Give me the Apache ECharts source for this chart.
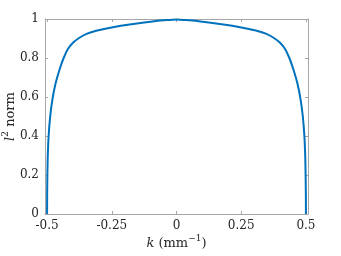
<!DOCTYPE html>
<html><head><meta charset="utf-8">
<script src="https://cdn.jsdelivr.net/npm/echarts@6/dist/echarts.min.js"></script>
<style>html,body{margin:0;padding:0;background:#fff}#c{width:341px;height:256px}</style>
</head><body><div id="c"></div>
<script>
var kValues = [-0.5, -0.4997, -0.4988, -0.4972, -0.494, -0.488, -0.479, -0.467, -0.452, -0.436, -0.42, -0.4, -0.375, -0.345, -0.31, -0.265, -0.215, -0.16, -0.1, -0.05, 0,
  0.05, 0.1, 0.16, 0.215, 0.265, 0.31, 0.345, 0.375, 0.4, 0.42, 0.436, 0.452, 0.467, 0.479, 0.488, 0.494, 0.4972, 0.4988, 0.4997, 0.5];
var normValues = [0, 0.1, 0.2, 0.3, 0.4, 0.5, 0.59, 0.67, 0.74, 0.8, 0.845, 0.878, 0.904, 0.925, 0.94, 0.953, 0.965, 0.976, 0.986, 0.993, 0.998,
  0.993, 0.986, 0.976, 0.965, 0.953, 0.94, 0.925, 0.904, 0.878, 0.845, 0.8, 0.74, 0.67, 0.59, 0.5, 0.4, 0.3, 0.2, 0.1, 0];
var xTicks = [-0.5, -0.25, 0, 0.25, 0.5];
var xTickLabels = ['-0.5', '-0.25', '0', '0.25', '0.5'];
var yTickLabels = ['0', '0.2', '0.4', '0.6', '0.8', '1'];

var font = 'DejaVu Serif';
var axisCol = '#a6a6a6';
var txt = '#262626';
var data = kValues.map(function (k, i) { return [k, normValues[i]]; });
var chart = echarts.init(document.getElementById('c'));
var rich = {
  i: { fontFamily: font, fontStyle: 'italic', fontSize: 13, color: txt, lineHeight: 16, verticalAlign: 'bottom' },
  n: { fontFamily: font, fontSize: 13, color: txt, lineHeight: 16, verticalAlign: 'bottom' },
  s: { fontFamily: font, fontSize: 9, color: txt, lineHeight: 16, verticalAlign: 'top' }
};
function xAx(pos, show) {
  return {
    type: 'value', position: pos, min: -0.508, max: 0.508,
    axisLine: { show: true, onZero: false, lineStyle: { color: axisCol, width: 1 } },
    axisTick: { show: true, inside: true, length: 3, customValues: xTicks, lineStyle: { color: axisCol } },
    axisLabel: show ? { show: true, customValues: xTicks, margin: 6, fontFamily: font, fontSize: 12, color: txt,
      formatter: function (v) { var i = xTicks.indexOf(+v.toFixed(2)); return i >= 0 ? xTickLabels[i] : ''; } } : { show: false },
    splitLine: { show: false },
    name: show ? '{i|k}{n| (mm}{s|−1}{n|)}' : '', nameLocation: 'middle', nameGap: 20, nameMoveOverlap: false,
    nameTextStyle: { fontFamily: font, fontSize: 13, color: txt, rich: rich }
  };
}
function yAx(pos, show) {
  return {
    type: 'value', position: pos, min: 0, max: 1, interval: 0.2,
    axisLine: { show: true, onZero: false, lineStyle: { color: axisCol, width: 1 } },
    axisTick: { show: true, inside: true, length: 3, lineStyle: { color: axisCol } },
    axisLabel: show ? { show: true, margin: 6, fontFamily: font, fontSize: 12, color: txt,
      formatter: function (v) { return yTickLabels[Math.round(v / 0.2)]; } } : { show: false },
    splitLine: { show: false },
    name: show ? '{i|l}{s|2}{n| norm}' : '', nameLocation: 'middle', nameGap: 28, nameRotate: 90, nameMoveOverlap: false,
    nameTextStyle: { fontFamily: font, fontSize: 13, color: txt, rich: rich }
  };
}
chart.setOption({
  animation: false,
  grid: { left: 45, right: 33, top: 19, bottom: 42, containLabel: false, outerBoundsMode: 'none' },
  xAxis: [xAx('bottom', true), xAx('top', false)],
  yAxis: [yAx('left', true), yAx('right', false)],
  series: [{
    type: 'line', data: data, showSymbol: false, smooth: 0.3,
    lineStyle: { color: '#0072BD', width: 2 }, clip: true
  }]
});
</script></body></html>
